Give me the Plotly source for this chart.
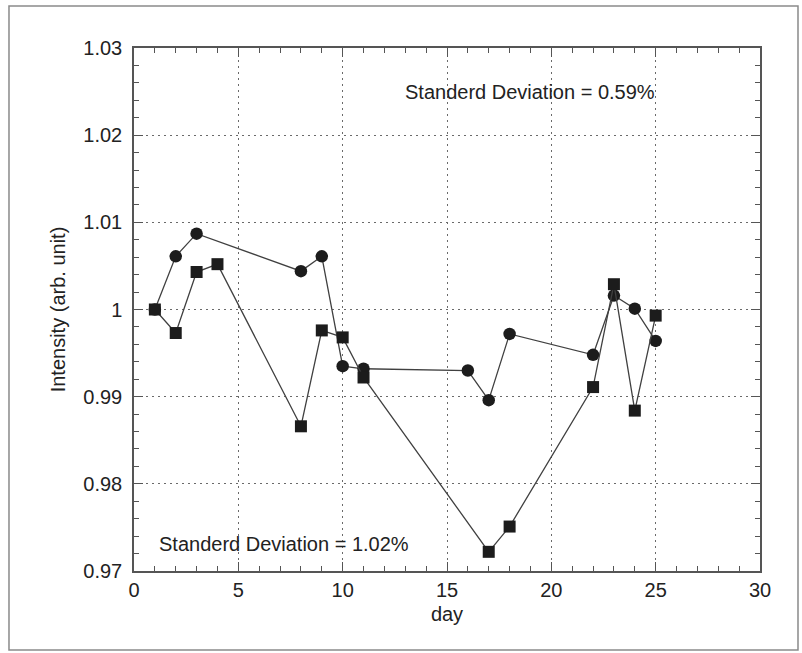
import plotly.graph_objects as go

circle_days = [1, 2, 3, 8, 9, 10, 11, 16, 17, 18, 22, 23, 24, 25]
circle_vals = [1.0000, 1.0061, 1.0087, 1.0044, 1.0061, 0.9935, 0.9932,
               0.9930, 0.9896, 0.9972, 0.9948, 1.0016, 1.0001, 0.9964]

square_days = [1, 2, 3, 4, 8, 9, 10, 11, 17, 18, 22, 23, 24, 25]
square_vals = [1.0000, 0.9973, 1.0043, 1.0052, 0.9866, 0.9976, 0.9968,
               0.9922, 0.9722, 0.9751, 0.9911, 1.0029, 0.9884, 0.9993]

x_ticks = [0, 5, 10, 15, 20, 25, 30]
y_ticks = [0.97, 0.98, 0.99, 1.00, 1.01, 1.02, 1.03]
y_tick_labels = ["0.97", "0.98", "0.99", "1", "1.01", "1.02", "1.03"]

line_color = "#404040"
mark_color = "#1c1c1c"
font_family = "Liberation Sans, Arial, sans-serif"
text_color = "#222"

fig = go.Figure()
fig.add_trace(go.Scatter(
    x=circle_days, y=circle_vals, mode="lines+markers",
    line=dict(color=line_color, width=1.3),
    marker=dict(symbol="circle", size=12.5, color=mark_color),
    showlegend=False,
))
fig.add_trace(go.Scatter(
    x=square_days, y=square_vals, mode="lines+markers",
    line=dict(color=line_color, width=1.3),
    marker=dict(symbol="square", size=12, color=mark_color),
    showlegend=False,
))

axis_common = dict(
    showline=True, linecolor="#555", linewidth=1.5, mirror="allticks",
    ticks="inside", tickcolor="#555", tickwidth=1.2,
    showgrid=True, gridcolor="#6a6a6a", griddash="2px,4px", gridwidth=1.3,
    zeroline=False,
    tickfont=dict(family=font_family, size=20, color=text_color),
)

fig.update_xaxes(
    range=[0, 30], tickvals=x_ticks, ticklen=9,
    minor=dict(dtick=1, ticks="inside", ticklen=5, tickcolor="#555", showgrid=False),
    title=dict(text="day", font=dict(family=font_family, size=20, color=text_color), standoff=7),
    **axis_common,
)
fig.update_yaxes(
    range=[0.97, 1.03], tickvals=y_ticks, ticktext=y_tick_labels, ticklen=9,
    ticklabelstandoff=6,
    minor=dict(dtick=0.002, ticks="inside", ticklen=5, tickcolor="#555", showgrid=False),
    title=dict(text="Intensity (arb. unit)", font=dict(family=font_family, size=20, color=text_color), standoff=12),
    **axis_common,
)

fig.add_annotation(x=12.9, y=1.0249, xref="x", yref="y", xanchor="left", yanchor="middle",
                   text="Standerd Deviation = 0.59%", showarrow=False,
                   font=dict(family=font_family, size=20, color=text_color))
fig.add_annotation(x=1.1, y=0.9731, xref="x", yref="y", xanchor="left", yanchor="middle",
                   text="Standerd Deviation = 1.02%", showarrow=False,
                   font=dict(family=font_family, size=20, color=text_color))

fig.add_shape(type="rect", xref="paper", yref="paper",
              x0=-0.1997, x1=1.0607, y0=-0.151, y1=1.0803,
              line=dict(color="#8a8a8a", width=1.5), layer="below")

fig.update_layout(
    width=802, height=653,
    margin=dict(l=134, r=42, t=48, b=82),
    paper_bgcolor="white", plot_bgcolor="white",
)

fig.write_html("out.html")
